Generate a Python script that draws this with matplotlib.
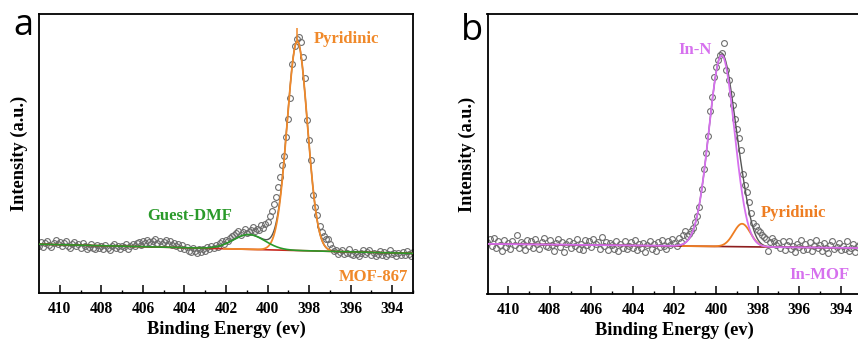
import numpy as np
import matplotlib
matplotlib.use("Agg")
import matplotlib.pyplot as plt

# ---------------- data ----------------
# binding-energy grid of the measured points (eV), 411.0 -> 393.0, step 0.1
energy_start, energy_stop, n_points = 411.0, 393.0, 181

# Panel a (MOF-867) measured intensities (a.u.)
mof867_counts = [
    17.0, 18.2, 16.6, 17.9, 18.6, 17.2, 16.5, 18.0, 18.9, 17.6,
    18.4, 16.9, 17.8, 18.5, 17.0, 16.2, 17.5, 18.3, 16.8, 17.4,
    16.1, 17.9, 16.7, 15.8, 16.6, 17.5, 16.3, 15.9, 17.2, 16.0,
    16.8, 15.7, 17.3, 16.2, 15.5, 16.9, 17.6, 16.0, 16.7, 15.6,
    17.0, 16.4, 17.4, 15.9, 16.8, 17.7, 16.9, 17.8, 18.4, 17.3,
    18.6, 17.9, 19.0, 18.2, 17.6, 18.8, 19.3, 17.9, 18.7, 17.4,
    18.3, 19.1, 17.7, 18.5, 17.2, 18.0, 16.8, 17.6, 16.3, 17.1,
    15.9, 16.6, 15.2, 14.6, 16.0, 15.0, 14.3, 15.6, 14.8, 15.9,
    15.1, 16.4, 15.6, 16.9, 16.2, 17.3, 16.6, 17.8, 18.5, 17.6,
    19.0, 18.6, 19.8, 20.6, 20.9, 21.6, 22.2, 20.8, 21.9, 23.0,
    21.5, 21.8, 22.6, 23.7, 22.4, 23.0, 22.5, 24.2, 23.2, 24.8,
    25.5, 27.5, 29.5, 32.0, 34.5, 38.0, 41.5, 45.9, 49.0, 56.0,
    62.5, 69.8, 82.0, 88.5, 91.0, 91.9, 90.0, 84.5, 77.0, 62.0,
    55.0, 47.8, 35.0, 31.0, 28.0, 24.0, 21.8, 20.4, 19.5, 19.2,
    17.5, 16.1, 15.2, 15.4, 13.8, 14.6, 15.3, 13.9, 14.5, 15.6,
    14.0, 13.5, 14.8, 14.1, 13.3, 14.4, 15.3, 13.9, 14.7, 15.5,
    13.6, 14.3, 13.1, 14.0, 15.2, 13.7, 14.6, 13.4, 14.1, 15.4,
    13.8, 14.5, 13.2, 14.2, 13.6, 14.8, 13.5, 15.0, 14.1, 13.4,
    14.6,
]

# Panel b (In-MOF) measured intensities (a.u.)
inmof_counts = [
    18.5, 19.6, 17.2, 20.1, 16.4, 18.9, 17.6, 15.2, 19.3, 16.8,
    18.2, 15.9, 19.0, 17.4, 21.0, 16.6, 18.7, 17.9, 15.6, 19.4,
    17.1, 18.8, 16.3, 19.7, 17.8, 16.0, 18.4, 19.9, 17.3, 16.7,
    19.2, 17.6, 15.4, 18.1, 19.5, 16.9, 18.6, 14.9, 17.7, 19.0,
    16.5, 18.3, 17.0, 19.8, 16.2, 18.0, 15.8, 19.3, 17.5, 18.9,
    16.8, 19.6, 17.9, 18.4, 16.1, 20.2, 17.3, 18.7, 15.6, 18.1,
    17.4, 16.0, 18.8, 15.3, 17.7, 16.4, 19.1, 15.9, 17.2, 18.5,
    16.3, 19.2, 15.7, 17.9, 16.6, 18.3, 15.1, 17.4, 19.0, 16.2,
    17.8, 15.5, 18.6, 16.9, 19.4, 17.1, 16.0, 18.9, 17.6, 19.7,
    18.3, 17.0, 19.9, 18.6, 21.2, 22.4, 20.6, 21.5, 22.6, 23.5,
    25.8, 28.0, 31.2, 37.5, 44.5, 50.5, 56.5, 65.5, 70.5, 77.5,
    81.2, 83.5, 85.5, 86.0, 89.8, 80.0, 76.5, 71.5, 67.5, 62.5,
    59.0, 55.8, 51.4, 43.0, 39.0, 36.5, 33.0, 29.0, 25.2, 24.3,
    23.0, 22.0, 21.2, 20.5, 19.8, 15.5, 18.5, 20.0, 19.0, 17.5,
    18.2, 16.4, 19.1, 15.8, 17.6, 18.9, 16.2, 17.3, 15.0, 18.0,
    16.7, 19.3, 15.6, 17.9, 16.1, 18.4, 15.3, 17.0, 19.2, 16.5,
    17.6, 15.2, 18.1, 16.3, 14.8, 17.4, 19.0, 15.9, 16.8, 18.3,
    15.7, 17.2, 16.0, 18.9, 15.4, 16.6, 17.8, 15.1, 16.9, 17.5,
    16.2,
]

# Fitted components: (center eV, FWHM eV, height a.u.)
a_baseline_ends = [17.5, 14.2]          # at 411 and 393 eV
a_pyridinic = (398.57, 1.15, 75.0)
a_pyridinic_marker_top = 95.0
a_pyridinic_span = (402.1, 397.0)
a_dmf = (400.9, 1.8, 5.3)

b_baseline_ends = [17.9, 16.4]
b_in_n = (399.73, 1.45, 68.3)
b_pyridinic = (398.75, 0.95, 8.2)
b_pyridinic_span = (401.6, 397.6)

x_ticks = [410, 408, 406, 404, 402, 400, 398, 396, 394]
x_minor = [409, 407, 405, 403, 401, 399, 397, 395, 393]

# ---------------- style ----------------
SERIF = ["Liberation Serif", "DejaVu Serif"]
ORANGE = "#F0892A"
ORANGE_B = "#EE7D22"
PINK = "#D670EE"
GREEN = "#2A9A2A"
RED = "#C8281E"
DARKRED = "#8E1E1E"
GRAY = "#555555"
PT_EDGE = "#6E6E6E"

energy = np.linspace(energy_start, energy_stop, n_points)
xf = np.linspace(energy_start, energy_stop, 1801)


def gauss(x, p):
    c, fwhm, h = p
    s = fwhm / 2.3548
    return h * np.exp(-(x - c) ** 2 / (2 * s * s))


def baseline(x, ends):
    return np.interp(x, [energy_stop, energy_start], [ends[1], ends[0]])


fig = plt.figure(figsize=(8.58, 3.44), dpi=100)
ax_a = fig.add_axes([39 / 858, 51 / 344, 374 / 858, 279 / 344])
ax_b = fig.add_axes([487.5 / 858, 50 / 344, 374 / 858, 280 / 344])


def style_axes(ax):
    ax.set_xlim(energy_start, energy_stop)
    ax.set_ylim(0, 100)
    ax.set_yticks([])
    ax.set_xticks(x_ticks)
    ax.set_xticks(x_minor, minor=True)
    ax.tick_params(axis="x", which="major", direction="in", length=5.5,
                   width=1.1, pad=5.5, top=False)
    ax.tick_params(axis="x", which="minor", direction="in", length=2.5,
                   width=1.0, top=False)
    for lab in ax.get_xticklabels():
        lab.set_fontfamily(SERIF)
        lab.set_fontweight("bold")
        lab.set_fontsize(11.2)
    for sp in ax.spines.values():
        sp.set_linewidth(1.3)
        sp.set_color("black")
    ax.set_xlabel("Binding Energy (ev)", family=SERIF, weight="bold",
                  fontsize=13.2, labelpad=3)
    ax.set_ylabel("Intensity (a.u.)", family=SERIF, weight="bold",
                  fontsize=13.2, labelpad=8)


# ---------------- panel a ----------------
ax = ax_a
bg_a = baseline(xf, a_baseline_ends)
env_a = bg_a + gauss(xf, a_pyridinic) + gauss(xf, a_dmf)
ax.plot(energy, mof867_counts, "o", ms=4.2, mfc="none", mec=PT_EDGE,
        mew=0.8, zorder=1)
ax.plot(xf, env_a, color=GRAY, lw=1.0, zorder=2)
ax.plot(xf, bg_a, color=RED, lw=1.2, zorder=3)
m = (xf <= a_pyridinic_span[0]) & (xf >= a_pyridinic_span[1])
ax.plot(xf[m], (bg_a + gauss(xf, a_pyridinic))[m], color=ORANGE, lw=1.3,
        zorder=4)
pk = a_pyridinic[0]
ax.vlines(pk, baseline(pk, a_baseline_ends) + a_pyridinic[2],
          a_pyridinic_marker_top, color=ORANGE, lw=1.1, zorder=4)
ax.plot(xf, bg_a + gauss(xf, a_dmf), color=GREEN, lw=1.2, zorder=5)
ax.text(397.8, 91, "Pyridinic", color=ORANGE, family=SERIF,
        weight="bold", fontsize=12, ha="left", va="center")
ax.text(405.8, 27.6, "Guest-DMF", color=GREEN, family=SERIF,
        weight="bold", fontsize=12, ha="left", va="center")
ax.text(393.25, 5.9, "MOF-867", color=ORANGE, family=SERIF,
        weight="bold", fontsize=12, ha="right", va="center")
style_axes(ax)

# ---------------- panel b ----------------
ax = ax_b
bg_b = baseline(xf, b_baseline_ends)
env_b = bg_b + gauss(xf, b_in_n) + gauss(xf, b_pyridinic)
ax.plot(energy, inmof_counts, "o", ms=4.2, mfc="none", mec=PT_EDGE,
        mew=0.8, zorder=1)
ax.plot(xf, env_b, color=GRAY, lw=1.0, zorder=2)
ax.plot(xf, bg_b, color=DARKRED, lw=1.2, zorder=3)
m = (xf <= b_pyridinic_span[0]) & (xf >= b_pyridinic_span[1])
ax.plot(xf[m], (bg_b + gauss(xf, b_pyridinic))[m], color=ORANGE_B,
        lw=1.3, zorder=4)
ax.plot(xf, bg_b + gauss(xf, b_in_n), color=PINK, lw=1.3, zorder=5)
ax.text(401.83, 87.1, "In-N", color=PINK, family=SERIF,
        weight="bold", fontsize=12, ha="left", va="center")
ax.text(397.85, 28.9, "Pyridinic", color=ORANGE_B, family=SERIF,
        weight="bold", fontsize=12, ha="left", va="center")
ax.text(396.45, 6.8, "In-MOF", color=PINK, family=SERIF,
        weight="bold", fontsize=12, ha="left", va="center")
style_axes(ax)

# panel letters
fig.text(13 / 858, 1 - 35 / 344, "a", family=["Open Sans", "DejaVu Sans"],
         fontsize=26, ha="left", va="baseline")
fig.text(461 / 858, 1 - 40 / 344, "b", family=["Open Sans", "DejaVu Sans"],
         fontsize=26, ha="left", va="baseline")

fig.savefig("out.png", dpi=100)
